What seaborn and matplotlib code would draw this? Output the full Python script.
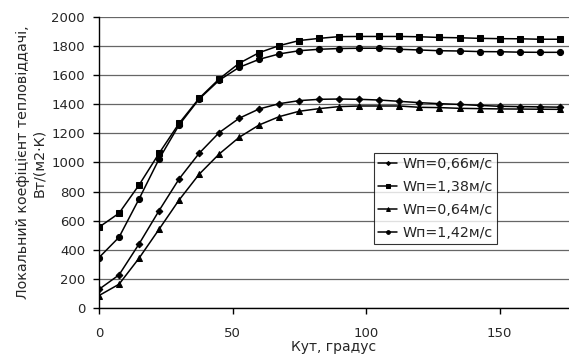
import numpy as np
import pandas as pd
import seaborn as sns
import matplotlib.pyplot as plt

# кут, градус
angle = [0, 7.5, 15, 22.5, 30, 37.5, 45, 52.5, 60, 67.5, 75, 82.5, 90, 97.5, 105,
         112.5, 120, 127.5, 135, 142.5, 150, 157.5, 165, 172.5]

w066 = [128, 227, 440, 669, 887, 1063, 1205, 1304, 1368, 1404, 1425, 1434, 1436, 1434,
        1429, 1420, 1411, 1404, 1399, 1392, 1386, 1384, 1382, 1380]
w138 = [555, 651, 845, 1063, 1269, 1441, 1574, 1682, 1755, 1803, 1838, 1853, 1865, 1866,
        1866, 1866, 1864, 1859, 1857, 1853, 1851, 1850, 1847, 1847]
w064 = [85, 163, 342, 541, 742, 919, 1058, 1173, 1258, 1315, 1352, 1370, 1384, 1388,
        1388, 1388, 1379, 1377, 1372, 1370, 1368, 1367, 1366, 1365]
w142 = [346, 486, 749, 1024, 1258, 1436, 1565, 1654, 1709, 1746, 1768, 1778, 1783, 1785,
        1785, 1778, 1773, 1768, 1766, 1762, 1761, 1758, 1757, 1757]

labels = ["Wп=0,66м/с", "Wп=1,38м/с", "Wп=0,64м/с", "Wп=1,42м/с"]
series = [w066, w138, w064, w142]
markers = ["D", "s", "^", "o"]
msizes = [3.4, 4.6, 4.6, 4.4]

sns.set_style("white")
plt.rcParams['font.family'] = ['DejaVu Sans']

fig = plt.figure(figsize=(5.69, 3.61), dpi=100)
ax = fig.add_axes([0.174, 0.147, 0.826, 0.806])

for lab, vals, mk, ms in zip(labels, series, markers, msizes):
    df = pd.DataFrame({"angle": angle, "h": vals})
    sns.lineplot(data=df, x="angle", y="h", color="black", linewidth=1.1,
                 marker=mk, markersize=ms, markeredgecolor="black", label=lab, ax=ax)

ax.set_xlim(0, 176)
ax.set_ylim(0, 2000)
ax.set_xticks([0, 50, 100, 150])
ax.set_yticks(np.arange(0, 2001, 200))
ax.yaxis.grid(True, color="#666666", linewidth=0.9)
ax.set_axisbelow(True)
for s in ["top", "right"]:
    ax.spines[s].set_visible(False)
for s in ["left", "bottom"]:
    ax.spines[s].set_color("black")
    ax.spines[s].set_linewidth(1)
ax.tick_params(axis="both", direction="out", length=4, width=1, color="black",
               labelsize=9.5, left=True, bottom=True)
ax.tick_params(axis="y", pad=6)
ax.tick_params(axis="x", pad=10)
ax.set_xlabel("Кут, градус", fontsize=10, labelpad=0)
ax.set_ylabel("Локальний коефіцієнт тепловіддачі,\nВт/(м2·К)", fontsize=10.3,
              labelpad=4, linespacing=1.2)

leg = ax.legend(loc="upper left", bbox_to_anchor=(0.585, 0.533), frameon=True, fancybox=False,
                edgecolor="black", fontsize=10.3, handlelength=1.3, handletextpad=0.4,
                labelspacing=0.62, borderpad=0.3, borderaxespad=0, markerscale=0.6)
leg.get_frame().set_linewidth(0.8)

fig.savefig("out.png", dpi=100)
